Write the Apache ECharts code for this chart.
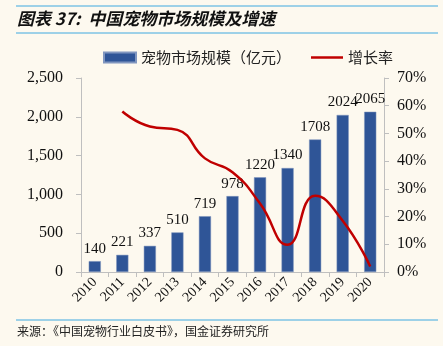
<!DOCTYPE html>
<html>
<head>
<meta charset="utf-8">
<script src="https://cdn.jsdelivr.net/npm/echarts@6/dist/echarts.min.js"></script>
<style>
html,body{margin:0;padding:0;background:#FDF9EF;}
#c{width:443px;height:346px;}
</style>
</head>
<body>
<div id="c"></div>
<script>
var categories = ['2010','2011','2012','2013','2014','2015','2016','2017','2018','2019','2020'];
var marketSize = [140,221,337,510,719,978,1220,1340,1708,2024,2065];
var growthRate = [null,57.9,52.5,51.3,41.0,36.0,24.7,9.8,27.5,18.5,2.0];
var leftTicks = {min:0,max:2500,interval:500};
var rightTicks = {min:0,max:70,interval:10};

var serif = '"Times New Roman","Liberation Serif",serif';
var cjk = '"Noto Sans CJK SC",sans-serif';
var chart = echarts.init(document.getElementById('c'));
chart.setOption({
  backgroundColor:'#FDF9EF',
  animation:false,
  grid:{left:81,right:59,top:78,bottom:74},
  graphic:[
    {type:'line',shape:{x1:16,y1:6,x2:438,y2:6},style:{stroke:'#3FA9E0',lineWidth:1}},
    {type:'line',shape:{x1:16,y1:33,x2:438,y2:33},style:{stroke:'#3FA9E0',lineWidth:1}},
    {type:'text',left:17,top:10,style:{text:'图表 37:  中国宠物市场规模及增速',font:'italic bold 17px '+cjk,fill:'#111'}},
    {type:'line',shape:{x1:16,y1:320,x2:438,y2:320},style:{stroke:'#3FA9E0',lineWidth:1}},
    {type:'text',left:17,top:325,style:{text:'来源：《中国宠物行业白皮书》，国金证券研究所',font:'12px '+cjk,fill:'#222'}}
  ],
  legend:{
    top:50,left:103,padding:0,itemWidth:32,itemHeight:10,itemGap:20,
    textStyle:{fontFamily:cjk,fontSize:15,color:'#222'},
    data:[{name:'宠物市场规模（亿元）',icon:'rect'},{name:'增长率',icon:'path://M0,0H32V2.5H0Z',itemStyle:{color:'#C00000'}}]
  },
  xAxis:{
    type:'category',data:categories,
    axisLine:{lineStyle:{color:'#BFBFBF'}},
    axisTick:{show:true,length:5,lineStyle:{color:'#BFBFBF'}},
    axisLabel:{rotate:45,fontFamily:serif,fontSize:14,color:'#111',margin:8,interval:0}
  },
  yAxis:[
    {type:'value',min:leftTicks.min,max:leftTicks.max,interval:leftTicks.interval,
     axisLine:{show:true,lineStyle:{color:'#BFBFBF'}},
     axisTick:{show:true,length:5,lineStyle:{color:'#BFBFBF'}},
     splitLine:{show:false},
     axisLabel:{margin:18,fontFamily:serif,fontSize:16,color:'#111',
       formatter:function(v){return v.toLocaleString('en-US');}}},
    {type:'value',min:rightTicks.min,max:rightTicks.max,interval:rightTicks.interval,position:'right',
     axisLine:{show:true,lineStyle:{color:'#BFBFBF'}},
     axisTick:{show:true,length:5,lineStyle:{color:'#BFBFBF'}},
     splitLine:{show:false},
     axisLabel:{margin:13,fontFamily:serif,fontSize:16,color:'#111',formatter:'{value}%'}}
  ],
  series:[
    {name:'宠物市场规模（亿元）',type:'bar',data:marketSize,barWidth:'44%',
     itemStyle:{color:'#2F5597',borderColor:'#8096BF',borderWidth:0.5},
     label:{show:true,position:'top',distance:5,fontFamily:serif,fontSize:15,color:'#111'}},
    {name:'增长率',type:'line',yAxisIndex:1,data:growthRate,smooth:0.5,showSymbol:false,symbol:'none',
     lineStyle:{color:'#C00000',width:2.5},itemStyle:{color:'#C00000'}}
  ]
});
</script>
</body>
</html>
